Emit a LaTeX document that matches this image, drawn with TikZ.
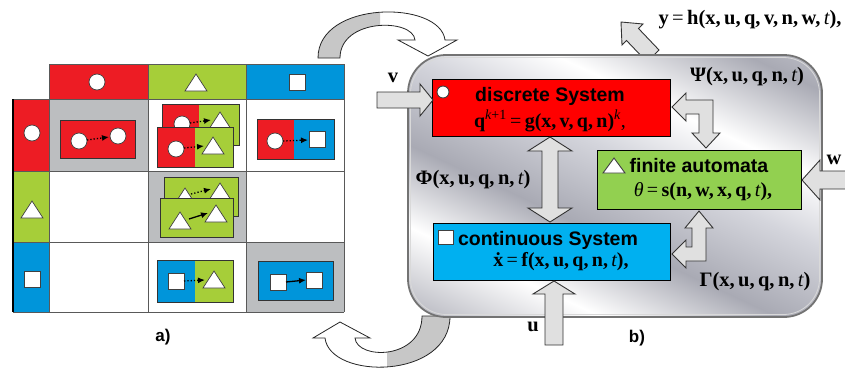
\documentclass[tikz,border=0pt]{standalone}
\usepackage{fontspec}
\setmainfont{Liberation Serif}
\newfontfamily\arial{Liberation Sans}
\usetikzlibrary{arrows.meta,calc}
\definecolor{lr}{HTML}{ED1C24}
\definecolor{lg}{HTML}{A6CE39}
\definecolor{lb}{HTML}{0095DA}
\definecolor{cg}{HTML}{BCBEC0}
\definecolor{rr}{HTML}{FF0000}
\definecolor{rg}{HTML}{92D050}
\definecolor{rb}{HTML}{00B0F0}
\definecolor{m1}{HTML}{D4D5DC}
\definecolor{m2}{HTML}{A9AAB4}
\definecolor{m3}{HTML}{878893}
\pgfdeclarehorizontalshading{metal}{100bp}{color(0bp)=(m3); color(15bp)=(m2); color(30bp)=(white); color(42bp)=(m2); color(55bp)=(m1); color(65bp)=(white); color(78bp)=(m2); color(90bp)=(m1); color(100bp)=(m3)}
\newcommand\mycirc[2]{\draw[symb] (#1,#2) circle (8);}
\newcommand\mytri[2]{\draw[symb] ($(#1,#2)+(-11,8)$) -- ($(#1,#2)+(11,8)$) -- ($(#1,#2)+(0,-9)$) -- cycle;}
\newcommand\mysq[2]{\draw[symb] ($(#1,#2)+(-8,-8)$) rectangle ($(#1,#2)+(8,8)$);}
\begin{document}
\begin{tikzpicture}[x=1pt,y=-1pt,
  symb/.style={fill=white,draw=black!75,line width=0.7pt},
  card/.style={draw=black!80,line width=0.9pt},
  grid/.style={draw=black!65,line width=0.8pt},
  darr/.style={dotted,line width=1.3pt,-{Latex[length=7pt,width=6pt]}},
  sarr/.style={line width=1.3pt,-{Latex[length=7pt,width=6pt]}},
  blk/.style={fill=black!12,draw=black!80,line width=0.9pt,line join=miter},
  box/.style={draw=black,line width=0.9pt},
  ttl/.style={font=\arial\bfseries\fontsize{19.5}{21}\selectfont,inner sep=0pt},
  frm/.style={font=\fontsize{20}{22}\selectfont\bfseries,inner sep=0pt},
  lbl/.style={font=\fontsize{20.5}{22}\selectfont\bfseries,inner sep=0pt},
  captxt/.style={font=\arial\bfseries\fontsize{17}{19}\selectfont,inner sep=0pt},
  curv/.style={draw=black!85,line width=0.8pt}]
\useasboundingbox (0,0) rectangle (845,367);

% ---------- left grid ----------
\fill[lr] (49,64) rectangle (148,99);
\fill[lg] (148,64) rectangle (246,99);
\fill[lb] (246,64) rectangle (344,99);
\fill[lr] (13,99) rectangle (49,171);
\fill[lg] (13,171) rectangle (49,242);
\fill[lb] (13,242) rectangle (49,312);
\fill[cg] (49,99) rectangle (148,171);
\fill[cg] (148,171) rectangle (246,242);
\fill[cg] (246,242) rectangle (344,312);
\draw[grid] (49,64) -- (344,64);
\foreach \yy in {99,171,242,312} \draw[grid] (13,\yy) -- (344,\yy);
\foreach \xx in {49,148,246,344} \draw[grid] (\xx,64) -- (\xx,312);
\draw[black,line width=1.6pt] (13,99) -- (13,312);

\mycirc{97}{82}
\mytri{196}{83}
\mysq{297}{82}
\mycirc{32}{133}
\mytri{32}{210}
\mysq{32}{279}

% row1 col1
\draw[card,fill=lr] (60,120) rectangle (135,158);
\mycirc{79}{141}
\mycirc{118}{136}
\draw[darr] (87,140) -- (109,137);
% row1 col2 back
\fill[lr] (162,104) rectangle (199,145);
\fill[lg] (199,104) rectangle (239,145);
\draw[card] (162,104) rectangle (239,145);
\mycirc{182}{124}
\mytri{220}{121}
\draw[darr] (190,123) -- (211,120);
% row1 col2 front
\fill[lr] (157,127) rectangle (195,167);
\fill[lg] (195,127) rectangle (233,167);
\draw[card] (157,127) rectangle (233,167);
\mycirc{176}{149}
\mytri{213}{146}
\draw[darr] (184,148) -- (204,146);
% row1 col3
\fill[lr] (257,119) rectangle (294,159);
\fill[lb] (294,119) rectangle (334,159);
\draw[card] (257,119) rectangle (334,159);
\mycirc{275}{141}
\mysq{317}{139}
\draw[darr] (283,141) -- (308,140);
% row2 col2 back
\draw[card,fill=lg] (164,177) rectangle (238,216);
\mytri{185}{197}
\mytri{220}{192}
\draw[darr] (191,194) -- (211,189);
% row2 col2 front
\draw[card,fill=lg] (160,198) rectangle (233,237);
\mytri{180}{221}
\mytri{216}{214}
\draw[sarr] (189,219) -- (208,213);
% row3 col2
\fill[lb] (157,260) rectangle (195,302);
\fill[lg] (195,260) rectangle (233,302);
\draw[card] (157,260) rectangle (233,302);
\mysq{176}{281}
\mytri{214}{280}
\draw[darr] (184,281) -- (205,280);
% row3 col3
\draw[card,fill=lb] (258,261) rectangle (333,300);
\mysq{278}{282}
\mysq{314}{280}
\draw[sarr] (286,282) -- (306,280);

\node[captxt] (capa) at (163,337) {a)};

% ---------- curved arrows ----------
\path[fill=white] (318,58) .. controls (318,0) and (440,0) .. (445,40) -- (457,40) -- (428,56) -- (398,40) -- (415,40) .. controls (413,18) and (340,18) .. (340,58) -- cycle;
\begin{scope}
\clip (300,0) rectangle (380,70);
\fill[black!22] (318,58) .. controls (318,0) and (440,0) .. (445,40) -- (457,40) -- (428,56) -- (398,40) -- (415,40) .. controls (413,18) and (340,18) .. (340,58) -- cycle;
\end{scope}
\draw[curv] (318,58) .. controls (318,0) and (440,0) .. (445,40) -- (457,40) -- (428,56) -- (398,40) -- (415,40) .. controls (413,18) and (340,18) .. (340,58) -- cycle;

\path[fill=white] (450,316) .. controls (450,380) and (330,380) .. (325,338) -- (313,338) -- (340,322) -- (370,338) -- (355,338) .. controls (357,360) and (422,360) .. (422,316) -- cycle;
\begin{scope}
\clip (387,300) rectangle (470,367);
\fill[black!22] (450,316) .. controls (450,380) and (330,380) .. (325,338) -- (313,338) -- (340,322) -- (370,338) -- (355,338) .. controls (357,360) and (422,360) .. (422,316) -- cycle;
\end{scope}
\draw[curv] (450,316) .. controls (450,380) and (330,380) .. (325,338) -- (313,338) -- (340,322) -- (370,338) -- (355,338) .. controls (357,360) and (422,360) .. (422,316) -- cycle;

% ---------- y output arrow (behind panel) ----------
\draw[blk] (621,22) -- (643,24) -- (638.5,28.5) -- (659,50) -- (647,62) -- (626.5,40.5) -- (622,45) -- cycle;

% ---------- panel ----------
\shade[shading=metal,shading angle=65,rounded corners=38pt] (408,55) rectangle (822,317);
\draw[black!55,line width=1.8pt,rounded corners=38pt] (408,55) rectangle (822,317);
\draw[white!85!black,line width=0.8pt,rounded corners=36pt] (410.5,57.5) rectangle (819.5,314.5);

% ---------- boxes ----------
\node[box,fill=rr,minimum width=238pt,minimum height=57pt,inner sep=0pt] (ds) at (551,107.5) {};
\node[box,fill=rg,minimum width=204pt,minimum height=59pt,inner sep=0pt] (fa) at (699,179.5) {};
\node[box,fill=rb,minimum width=237pt,minimum height=57pt,inner sep=0pt] (cs) at (551.5,251.5) {};

\draw[symb,line width=0.9pt] (443,92) circle (6);
\draw[symb,line width=0.9pt] (603,173) -- (625,173) -- (614,158) -- cycle;
\draw[symb,line width=0.9pt] (438,230) rectangle (453,244);

\node[ttl] (dst) at (550,96) {discrete System};
\node[frm] (dsf) at (550,121) {q\textsuperscript{\mdseries\itshape k\upshape +1}\,{\mdseries =}\,g(x,\,v,\,q,\,n)\textsuperscript{\mdseries\itshape k}{\mdseries ,}};
\node[ttl] (fat) at (699,166) {finite automata};
\node[frm] (faf) at (703,192) {{\mdseries\itshape θ}\,{\mdseries =}\,s(n,\,w,\,x,\,q,\,{\mdseries\itshape t}),};
\node[ttl] (cst) at (548,240) {continuous System};
\node[frm] (csf) at (561,262) {\.x\,{\mdseries =}\,f(x,\,u,\,q,\,n,\,{\mdseries\itshape t}),};

% ---------- block arrows ----------
\draw[blk] (377,92) -- (420,92) -- (420,84) -- (433,100) -- (420,116) -- (420,108) -- (377,108) -- cycle;
\draw[blk] (550,137) -- (572,151) -- (558,151) -- (558,208) -- (572,208) -- (550,222) -- (528,208) -- (542,208) -- (542,151) -- (528,151) -- cycle;
\draw[blk] (545,345) -- (545,294) -- (533,294) -- (554,281) -- (575,294) -- (563,294) -- (563,345) -- cycle;
\draw[blk] (845,171) -- (820,171) -- (820,160) -- (802,180) -- (820,200) -- (820,189) -- (845,189);
\draw[blk] (672,107) -- (686,93) -- (686,100) -- (713,100) -- (713,133) -- (720,133) -- (706,148) -- (692,133) -- (699,133) -- (699,114) -- (686,114) -- (686,121) -- cycle;
\draw[blk] (672,254) -- (686,240) -- (686,247) -- (692,247) -- (692,228) -- (685,228) -- (699,211) -- (713,228) -- (706,228) -- (706,261) -- (686,261) -- (686,268) -- cycle;

% ---------- labels ----------
\node[lbl] (lv) at (393,78) {v};
\node[lbl] (lw) at (834,160) {w};
\node[lbl] (lu) at (533,327) {u};
\node[lbl] (lphi) at (473,180) {Φ(x,\,u,\,q,\,n,\,{\mdseries\itshape t})};
\node[lbl] (lpsi) at (747,77) {Ψ(x,\,u,\,q,\,n,\,{\mdseries\itshape t})};
\node[lbl] (lgam) at (755,282) {Γ(x,\,u,\,q,\,n,\,{\mdseries\itshape t})};
\node[lbl] (ly) at (750,20) {y\,{\mdseries =}\,h(x,\,u,\,q,\,v,\,n,\,w,\,{\mdseries\itshape t}),};
\node[captxt] (capb) at (637,338) {b)};
\end{tikzpicture}
\end{document}
